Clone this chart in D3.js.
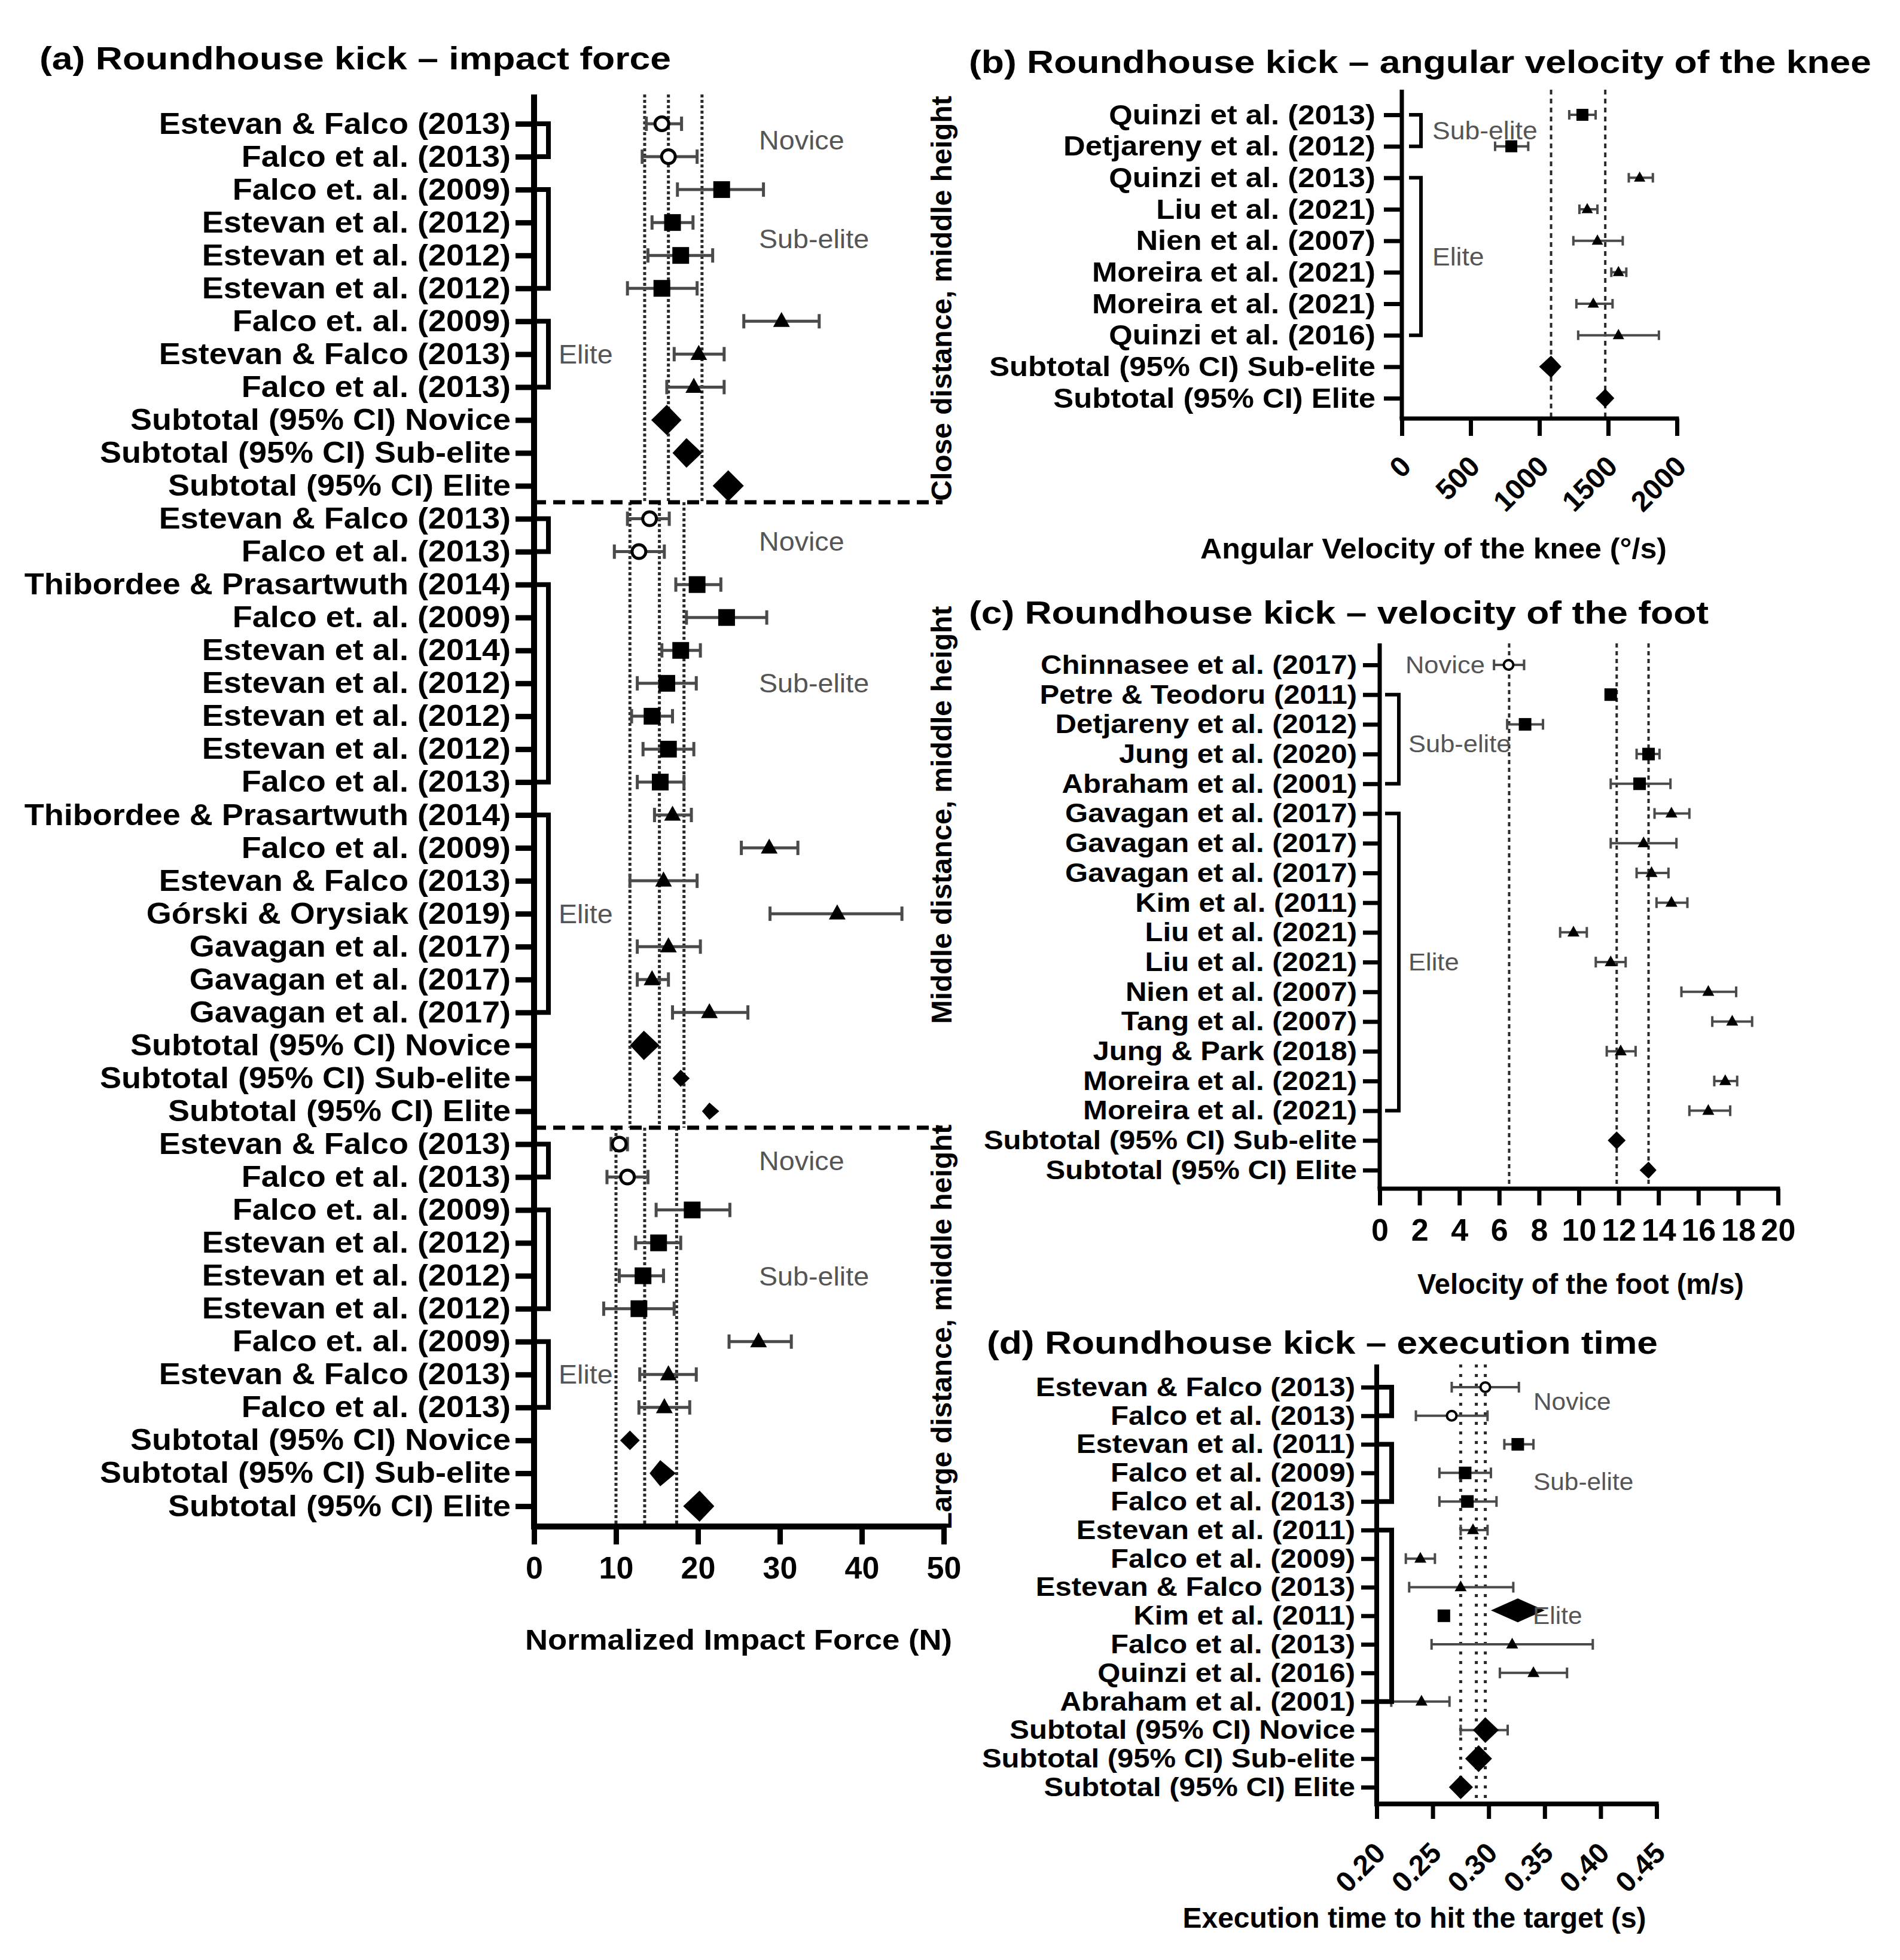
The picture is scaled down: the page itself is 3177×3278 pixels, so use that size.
<!DOCTYPE html>
<html><head><meta charset="utf-8">
<script src="https://cdn.jsdelivr.net/npm/d3@7"></script>
<style>
html,body{margin:0;padding:0;background:#fff;}
svg{display:block;}
text{font-family:"Liberation Sans",Arial,Helvetica,sans-serif;}
</style></head><body>
<svg id="fig" width="3177" height="3278"></svg>
<script>
// ---------------- DATA ----------------
// groups: N = Novice, S = Sub-elite, E = Elite, TN/TS/TE = Subtotal (95% CI)
const labelsA = [
 "Estevan & Falco (2013)","Falco et al. (2013)","Falco et. al. (2009)","Estevan et al. (2012)","Estevan et al. (2012)","Estevan et al. (2012)","Falco et. al. (2009)","Estevan & Falco (2013)","Falco et al. (2013)","Subtotal (95% CI) Novice","Subtotal (95% CI) Sub-elite","Subtotal (95% CI) Elite",
 "Estevan & Falco (2013)","Falco et al. (2013)","Thibordee & Prasartwuth (2014)","Falco et. al. (2009)","Estevan et al. (2014)","Estevan et al. (2012)","Estevan et al. (2012)","Estevan et al. (2012)","Falco et al. (2013)","Thibordee & Prasartwuth (2014)","Falco et al. (2009)","Estevan & Falco (2013)","Górski & Orysiak (2019)","Gavagan et al. (2017)","Gavagan et al. (2017)","Gavagan et al. (2017)","Subtotal (95% CI) Novice","Subtotal (95% CI) Sub-elite","Subtotal (95% CI) Elite",
 "Estevan & Falco (2013)","Falco et al. (2013)","Falco et. al. (2009)","Estevan et al. (2012)","Estevan et al. (2012)","Estevan et al. (2012)","Falco et. al. (2009)","Estevan & Falco (2013)","Falco et al. (2013)","Subtotal (95% CI) Novice","Subtotal (95% CI) Sub-elite","Subtotal (95% CI) Elite"];
const groupsA = [
 "N","N","S","S","S","S","E","E","E","TN","TS","TE",
 "N","N","S","S","S","S","S","S","S","E","E","E","E","E","E","E","TN","TS","TE",
 "N","N","S","S","S","S","E","E","E","TN","TS","TE"];
const meanA = [15.6,16.4,22.9,16.9,17.9,15.6,30.2,20.1,19.5,16.2,18.6,23.7,
 14.1,12.8,19.9,23.5,17.9,16.2,14.4,16.4,15.4,16.9,28.7,15.8,37.0,16.4,14.4,21.4,13.4,17.9,21.4,
 10.4,11.4,19.3,15.2,13.3,12.8,27.4,16.4,15.9,11.7,15.4,20.2];
const lowA = [13.7,13.2,17.5,14.4,13.9,11.4,25.6,17.1,16.2,14.3,16.9,21.8,
 11.4,9.8,17.3,18.6,15.6,12.6,11.9,13.3,12.6,14.7,25.3,11.7,28.8,12.6,12.6,16.9,11.7,16.9,20.5,
 9.4,8.9,14.9,12.4,10.4,8.5,23.8,12.9,12.8,10.5,14.1,18.2];
const highA = [18.0,19.9,28.0,19.4,21.8,19.9,34.8,23.2,23.2,18.0,20.5,25.6,
 16.5,15.9,22.8,28.4,20.3,19.8,16.9,19.5,18.3,19.2,32.2,19.9,44.9,20.3,16.4,26.1,15.3,19.0,22.6,
 11.4,13.9,23.9,17.9,15.8,17.1,31.4,19.8,19.0,12.9,17.3,22.0];
const refLinesA = [[13.5,16.4,20.5],[11.7,15.3,18.3],[10.0,13.5,17.4]];
const sectionNamesA = ["Close distance, middle height","Middle distance, middle height","Large distance, middle height"];
const ticksA = [0,10,20,30,40,50];

const labelsB = ["Quinzi et al. (2013)","Detjareny et al. (2012)","Quinzi et al. (2013)","Liu et al. (2021)","Nien et al. (2007)","Moreira et al. (2021)","Moreira et al. (2021)","Quinzi et al. (2016)","Subtotal (95% CI) Sub-elite","Subtotal (95% CI) Elite"];
const groupsB = ["S","S","E","E","E","E","E","E","TS","TE"];
const meanB = [1313,796,1729,1348,1422,1575,1392,1575,1085,1479];
const lowB  = [1217,678,1650,1291,1247,1523,1269,1282,998,1409];
const highB = [1409,919,1825,1422,1606,1632,1532,1869,1160,1545];
const refLinesB = [1085,1479];
const ticksB = [0,500,1000,1500,2000];

const labelsC = ["Chinnasee et al. (2017)","Petre & Teodoru (2011)","Detjareny et al. (2012)","Jung et al. (2020)","Abraham et al. (2001)","Gavagan et al. (2017)","Gavagan et al. (2017)","Gavagan et al. (2017)","Kim et al. (2011)","Liu et al. (2021)","Liu et al. (2021)","Nien et al. (2007)","Tang et al. (2007)","Jung & Park (2018)","Moreira et al. (2021)","Moreira et al. (2021)","Subtotal (95% CI) Sub-elite","Subtotal (95% CI) Elite"];
const groupsC = ["N","S","S","S","S","E","E","E","E","E","E","E","E","E","E","E","TS","TE"];
const meanC = [6.47,11.6,7.3,13.5,13.05,14.65,13.25,13.65,14.65,9.73,11.6,16.5,17.7,12.1,17.35,16.5,11.9,13.5];
const lowC  = [5.74,11.4,6.4,12.9,11.6,13.8,11.6,12.9,13.9,9.06,10.85,15.15,16.7,11.4,16.8,15.55,11.45,13.05];
const highC = [7.25,11.8,8.2,14.05,14.6,15.55,14.9,14.5,15.45,10.4,12.35,17.9,18.7,12.85,17.95,17.6,12.35,13.9];
const refLinesC = [6.5,11.9,13.5];
const ticksC = [0,2,4,6,8,10,12,14,16,18,20];

const labelsD = ["Estevan & Falco (2013)","Falco et al. (2013)","Estevan et al. (2011)","Falco et al. (2009)","Falco et al. (2013)","Estevan et al. (2011)","Falco et al. (2009)","Estevan & Falco (2013)","Kim et al. (2011)","Falco et al. (2013)","Quinzi et al. (2016)","Abraham et al. (2001)","Subtotal (95% CI) Novice","Subtotal (95% CI) Sub-elite","Subtotal (95% CI) Elite"];
const groupsD = ["N","N","S","S","S","E","E","E","E","E","E","E","TN","TS","TE"];
const meanD = [0.297,0.267,0.326,0.279,0.281,0.286,0.239,0.275,0.260,0.321,0.340,0.240,0.297,0.291,0.275];
const lowD  = [0.267,0.235,0.314,0.256,0.256,0.275,0.226,0.229,0.258,0.249,0.310,0.213,0.286,0.279,0.2645];
const highD = [0.327,0.299,0.340,0.302,0.307,0.299,0.252,0.322,0.262,0.393,0.370,0.265,0.309,0.303,0.286];
const subtotalWhiskerD = [{row:12, low:0.275, high:0.317}];
const strayDiamondD = [{row:8, low:0.302, high:0.350}];
const refLinesD = [0.275,0.289,0.297];
const ticksD = [0.20,0.25,0.30,0.35,0.40,0.45];

const groupNames = {N:"Novice", S:"Sub-elite", E:"Elite"};

// ---------------- DRAWING ----------------
const svg = d3.select("#fig");
svg.append("rect").attr("width",3177).attr("height",3278).attr("fill","#fff");

function stretch(sel, k){
  sel.each(function(){
    const L = this.getComputedTextLength();
    if (L > 0){ this.setAttribute("textLength", (L*k).toFixed(1)); this.setAttribute("lengthAdjust","spacingAndGlyphs"); }
  });
}
function fitWidth(sel, W){ sel.attr("textLength", W).attr("lengthAdjust","spacingAndGlyphs"); }

function drawPanel(c){
  const g = svg.append("g");
  const n = c.labels.length;
  const x = d3.scaleLinear().domain(c.xDomain).range(c.xRange);
  const y = d3.scalePoint().domain(d3.range(n)).range([c.yFirst, c.yLast]);

  const sections = c.sections(y);
  sections.forEach(s => {
    g.append("g").selectAll("line").data(s.lines).join("line")
      .attr("x1", d => x(d)).attr("x2", d => x(d))
      .attr("y1", s.top).attr("y2", s.bottom)
      .attr("stroke", "#2a2a2a").attr("stroke-width", c.refW).attr("stroke-dasharray", c.refDash);
  });

  (c.separators ? c.separators(y) : []).forEach(sy => {
    g.append("line").attr("x1", c.xRange[0]).attr("x2", c.xRange[1] - 2)
      .attr("y1", sy).attr("y2", sy).attr("stroke", "#000").attr("stroke-width", 7)
      .attr("stroke-dasharray", "20 12");
  });

  const studyRows = d3.range(n).filter(i => !c.groups[i].startsWith("T"));
  const subRows = d3.range(n).filter(i => c.groups[i].startsWith("T"));

  const wg = g.append("g").attr("stroke", "#4a4a4a").attr("stroke-width", c.wW).attr("fill","none");
  const whisk = studyRows.map(i => ({y: y(i), lo: c.low[i], hi: c.high[i]}))
    .concat((c.extraWhiskers || []).map(e => ({y: y(e.row), lo: e.low, hi: e.high})));
  wg.selectAll("line.w").data(whisk).join("line").attr("class","w")
    .attr("x1", d => x(d.lo)).attr("x2", d => x(d.hi)).attr("y1", d => d.y).attr("y2", d => d.y);
  wg.selectAll("line.cl").data(whisk).join("line").attr("class","cl")
    .attr("x1", d => x(d.lo)).attr("x2", d => x(d.lo)).attr("y1", d => d.y - c.cap/2).attr("y2", d => d.y + c.cap/2);
  wg.selectAll("line.ch").data(whisk).join("line").attr("class","ch")
    .attr("x1", d => x(d.hi)).attr("x2", d => x(d.hi)).attr("y1", d => d.y - c.cap/2).attr("y2", d => d.y + c.cap/2);

  const mg = g.append("g");
  studyRows.forEach(i => {
    const cx = x(c.mean[i]), cy = y(i), s = c.ms;
    const shape = (c.shapeOverride && c.shapeOverride[i]) || c.groups[i];
    if (shape === "N"){
      mg.append("circle").attr("cx", cx).attr("cy", cy).attr("r", s/2 - c.cw/2)
        .attr("fill","#fff").attr("stroke","#000").attr("stroke-width", c.cw);
    } else if (shape === "S"){
      const ss = c.sqSize || s;
      mg.append("rect").attr("x", cx - ss/2).attr("y", cy - ss/2).attr("width", ss).attr("height", ss).attr("fill","#000");
    } else {
      const h = s * 0.9;
      mg.append("path").attr("d", `M${cx},${cy - h*0.62}L${cx + s/2},${cy + h*0.38}L${cx - s/2},${cy + h*0.38}Z`).attr("fill","#000");
    }
  });

  const dg = g.append("g");
  subRows.forEach(i => {
    const xl = x(c.low[i]), xh = x(c.high[i]), cx = x(c.mean[i]), cy = y(i);
    const hh = (xh - xl) / 2;
    dg.append("path").attr("d", `M${xl},${cy}L${cx},${cy-hh}L${xh},${cy}L${cx},${cy+hh}Z`).attr("fill","#000");
  });
  (c.stray || []).forEach(d => {
    const xl = x(d.low), xh = x(d.high), cy = y(d.row) - 9, cx = (xl + xh)/2;
    dg.append("path").attr("d", `M${xl},${cy}L${cx},${cy-20}L${xh},${cy}L${cx},${cy+20}Z`).attr("fill","#000");
  });

  const ay = g.append("g").attr("transform", `translate(${c.xRange[0]},0)`)
    .call(d3.axisLeft(y).tickFormat(i => c.labels[i]).tickSize(c.yTick).tickPadding(c.yPad));
  ay.select(".domain").attr("d", `M0,${c.axisTop}V${c.axisBottom}`).attr("stroke","#000").attr("stroke-width", c.axisW);
  ay.selectAll(".tick line").attr("stroke","#000").attr("stroke-width", c.tickW);
  const yt = ay.selectAll(".tick text").attr("font-size", c.labelSize).attr("font-weight","bold")
    .attr("fill","#000").attr("font-family", '"Liberation Sans",Arial,sans-serif');
  stretch(yt, c.labelStretch);

  const ax = g.append("g").attr("transform", `translate(0,${c.axisBottom})`)
    .call(d3.axisBottom(x).tickValues(c.ticks).tickSize(c.xTick).tickPadding(c.xPad).tickFormat(c.tickFmt));
  ax.select(".domain").attr("d", `M${c.xRange[0] - c.axisW/2},0H${c.xRange[1] + c.tickW/2}`).attr("stroke","#000").attr("stroke-width", c.axisW);
  ax.selectAll(".tick line").attr("stroke","#000").attr("stroke-width", c.tickW);
  const xt = ax.selectAll(".tick text").attr("font-size", c.tickSize).attr("font-weight","bold")
    .attr("fill","#000").attr("font-family", '"Liberation Sans",Arial,sans-serif');
  if (c.rotate){
    xt.attr("text-anchor","end").attr("x",0).attr("y",0).attr("dy","0.35em")
      .attr("transform", `translate(${c.rotDx},${c.rotDy}) rotate(-45)`);
  }

  const runs = [];
  for (let i = 0; i < n; i++){
    const gr = c.groups[i];
    if (gr.startsWith("T")) continue;
    const last = runs[runs.length - 1];
    if (last && last.group === gr && last.end === i - 1) last.end = i;
    else runs.push({group: gr, start: i, end: i});
  }
  runs.forEach((r, k) => {
    if (r.end > r.start){
      g.append("path").attr("d", `M${c.bx1},${y(r.start)}H${c.bx2}V${y(r.end)}H${c.bx1}`)
        .attr("fill","none").attr("stroke","#000").attr("stroke-width", c.bW);
    }
    const ym = (y(r.start) + y(r.end)) / 2 + ((c.labelDy && c.labelDy[k]) || 0);
    const t = g.append("text").attr("x", c.groupX[r.group]).attr("y", ym)
      .attr("dominant-baseline","central").attr("font-size", c.groupSize).attr("fill","#555")
      .text(groupNames[r.group]);
    stretch(t, 1.06);
  });

  return {x, y};
}

// Panel (a)
drawPanel({
  labels: labelsA, groups: groupsA, mean: meanA, low: lowA, high: highA,
  xDomain: [0,50], xRange: [893,1578], yFirst: 207, yLast: 2519, axisTop: 158, axisBottom: 2553,
  sections: y => {
    const s1 = (y(11) + y(12)) / 2, s2 = (y(30) + y(31)) / 2;
    return [{lines: refLinesA[0], top: 158, bottom: s1},
            {lines: refLinesA[1], top: s1, bottom: s2},
            {lines: refLinesA[2], top: s2, bottom: 2553}];
  },
  separators: y => [(y(11) + y(12)) / 2, (y(30) + y(31)) / 2],
  refW: 5, refDash: "5 4", wW: 5, cap: 24, ms: 28, cw: 5,
  yTick: 31, yPad: 8, labelSize: 50, labelStretch: 1.08,
  xTick: 30, xPad: 20, tickSize: 52, ticks: ticksA, tickFmt: d3.format("d"),
  axisW: 10, tickW: 9, bW: 8, bx1: 893, bx2: 917,
  groupX: {N: 1269, S: 1269, E: 934}, groupSize: 44, labelDy: {3: 10, 7: 28}
});

// Panel (b)
drawPanel({
  labels: labelsB, groups: groupsB, mean: meanB, low: lowB, high: highB,
  xDomain: [0,2000], xRange: [2344,2804], yFirst: 192, yLast: 666, axisTop: 150, axisBottom: 700,
  sections: () => [{lines: refLinesB, top: 150, bottom: 700}],
  refW: 4, refDash: "8 7", wW: 4, cap: 16, ms: 19, sqSize: 20, cw: 4,
  yTick: 30, yPad: 14, labelSize: 47, labelStretch: 1.08,
  xTick: 29, xPad: 10, tickSize: 48, ticks: ticksB, tickFmt: d3.format("d"),
  rotate: true, rotDx: 6, rotDy: 71,
  axisW: 7, tickW: 7, bW: 6, bx1: 2356, bx2: 2376,
  groupX: {S: 2395, E: 2395}, groupSize: 42
});

// Panel (c)
drawPanel({
  labels: labelsC, groups: groupsC, mean: meanC, low: lowC, high: highC,
  xDomain: [0,20], xRange: [2307,2973], yFirst: 1112, yLast: 1957, axisTop: 1076, axisBottom: 1988,
  sections: () => [{lines: refLinesC, top: 1076, bottom: 1988}],
  refW: 4, refDash: "7 6", wW: 4, cap: 18, ms: 20, sqSize: 21, cw: 4,
  yTick: 28, yPad: 10, labelSize: 45, labelStretch: 1.09,
  xTick: 28, xPad: 22, tickSize: 52, ticks: ticksC, tickFmt: d3.format("d"),
  axisW: 7, tickW: 7, bW: 6, bx1: 2316, bx2: 2339,
  groupX: {N: 2350, S: 2355, E: 2355}, groupSize: 41, labelDy: {1: 8}
});

// Panel (d)
drawPanel({
  labels: labelsD, groups: groupsD, mean: meanD, low: lowD, high: highD,
  xDomain: [0.20,0.45], xRange: [2302,2770], yFirst: 2320, yLast: 2989, axisTop: 2282, axisBottom: 3017,
  sections: () => [{lines: refLinesD, top: 2282, bottom: 3017}],
  refW: 5, refDash: "5 11", wW: 4, cap: 18, ms: 20, sqSize: 21, cw: 4,
  extraWhiskers: subtotalWhiskerD, stray: strayDiamondD, shapeOverride: {8: "S"},
  yTick: 26, yPad: 10, labelSize: 45, labelStretch: 1.09,
  xTick: 25, xPad: 10, tickSize: 48, ticks: ticksD, tickFmt: d3.format(".2f"),
  rotate: true, rotDx: 5, rotDy: 73,
  axisW: 8, tickW: 7, bW: 8, bx1: 2302, bx2: 2327,
  groupX: {N: 2564, S: 2564, E: 2563}, groupSize: 40, labelDy: {1: 15}
});

// Section labels for panel (a)
(function(){
  const y = d3.scalePoint().domain(d3.range(labelsA.length)).range([207, 2519]);
  const s1 = (y(11) + y(12)) / 2, s2 = (y(30) + y(31)) / 2;
  const bounds = [[158, s1], [s1, s2], [s2, 2553]];
  svg.append("g").selectAll("text").data(sectionNamesA).join("text")
    .attr("transform", (d, i) => `translate(1574,${(bounds[i][0] + bounds[i][1]) / 2}) rotate(-90)`)
    .attr("text-anchor","middle").attr("dominant-baseline","central")
    .attr("font-size", 48).attr("font-weight","bold").attr("fill","#000")
    .text(d => d);
})();

// Titles
const titles = [
  {t: "(a) Roundhouse kick \u2013 impact force", x: 66, y: 116, w: 1056},
  {t: "(b) Roundhouse kick \u2013 angular velocity of the knee", x: 1620, y: 122, w: 1509},
  {t: "(c) Roundhouse kick \u2013 velocity of the foot", x: 1620, y: 1043, w: 1237},
  {t: "(d) Roundhouse kick \u2013 execution time", x: 1650, y: 2264, w: 1122}
];
titles.forEach(d => {
  const t = svg.append("text").attr("x", d.x).attr("y", d.y).attr("font-size", 54)
    .attr("font-weight","bold").attr("fill","#000").text(d.t);
  fitWidth(t, d.w);
});

const axisTitles = [
  {t: "Normalized Impact Force (N)", x: 1235, y: 2759, w: 714},
  {t: "Angular Velocity of the knee (\u00b0/s)", x: 2397, y: 934, w: 780},
  {t: "Velocity of the foot (m/s)", x: 2643, y: 2164, w: 546},
  {t: "Execution time to hit the target (s)", x: 2365, y: 3224, w: 775}
];
axisTitles.forEach(d => {
  const t = svg.append("text").attr("x", d.x).attr("y", d.y).attr("font-size", 48)
    .attr("font-weight","bold").attr("text-anchor","middle").attr("fill","#000").text(d.t);
  fitWidth(t, d.w);
});
</script></body></html>
